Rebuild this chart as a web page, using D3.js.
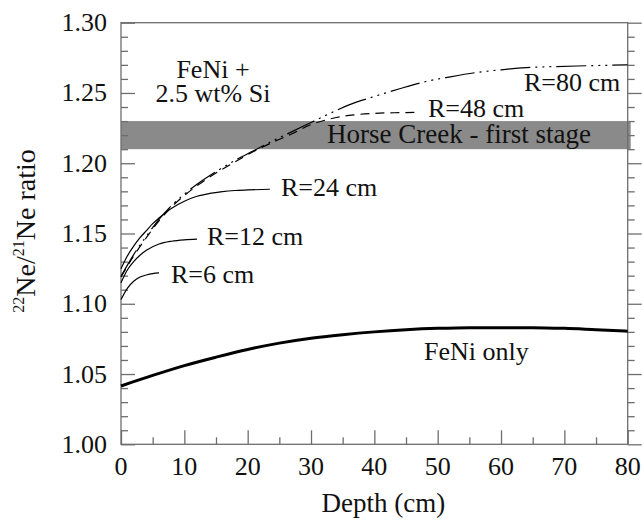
<!DOCTYPE html>
<html>
<head>
<meta charset="utf-8">
<script src="https://cdn.jsdelivr.net/npm/d3@7"></script>
</head>
<body style="margin:0">
<svg id="chart" width="644" height="521"></svg>
<script>
// data (depth in cm, 22Ne/21Ne ratio)
var feniDepth = [0, 5, 10, 15, 20, 25, 30, 35, 40, 45, 50, 55, 60, 65, 70, 75, 80];
var feniRatio = [1.0415, 1.049, 1.056, 1.062, 1.0675, 1.072, 1.0755, 1.078, 1.080, 1.0815, 1.0825, 1.083, 1.083, 1.083, 1.0825, 1.0815, 1.0805];

var r6Depth = [0, 1, 2, 3, 4, 5, 6];
var r6Ratio = [1.103, 1.111, 1.116, 1.119, 1.1205, 1.1215, 1.122];

var r12Depth = [0, 1, 2, 3, 4, 6, 8, 10, 12];
var r12Ratio = [1.115, 1.124, 1.130, 1.1345, 1.138, 1.1425, 1.1445, 1.1455, 1.146];

var r24Depth = [0, 1, 2, 3, 4, 5, 6, 8, 10, 12, 14, 16, 18, 20, 23.5];
var r24Ratio = [1.125, 1.134, 1.141, 1.147, 1.152, 1.157, 1.161, 1.168, 1.173, 1.1765, 1.1785, 1.1798, 1.1806, 1.181, 1.1815];

var r48Depth = [0, 2, 4, 6, 8, 10, 12, 15, 18, 21, 24, 27, 30, 33, 36, 40, 44, 47];
var r48Ratio = [1.119, 1.134, 1.147, 1.159, 1.169, 1.177, 1.184, 1.193, 1.201, 1.2085, 1.215, 1.221, 1.2275, 1.2315, 1.234, 1.2355, 1.236, 1.2362];

var r80Depth = [0, 2, 4, 6, 8, 10, 12, 15, 18, 21, 24, 27, 30, 33, 36, 40, 44, 48, 52, 56, 60, 64, 68, 72, 76, 80];
var r80Ratio = [1.1195, 1.135, 1.148, 1.160, 1.170, 1.178, 1.185, 1.194, 1.202, 1.209, 1.216, 1.2225, 1.229, 1.2355, 1.2415, 1.2475, 1.253, 1.258, 1.2615, 1.2645, 1.2665, 1.268, 1.2687, 1.2692, 1.2696, 1.270];

var bandRange = [1.21, 1.23];
var xTickLabels = ["0", "10", "20", "30", "40", "50", "60", "70", "80"];
var yTickLabels = ["1.00", "1.05", "1.10", "1.15", "1.20", "1.25", "1.30"];

var width = 644, height = 521;
var margin = { top: 22.7, right: 16.3, bottom: 76.7, left: 121 };
var axisCol = "#6e6e6e";

var svg = d3.select("#chart");

var x = d3.scaleLinear().domain([0, 80]).range([margin.left, width - margin.right]);
var y = d3.scaleLinear().domain([1.0, 1.3]).range([height - margin.bottom, margin.top]);

// grey band
svg.append("rect")
  .attr("x", x(0))
  .attr("width", x(80) - x(0) + 3)
  .attr("y", y(bandRange[1]))
  .attr("height", y(bandRange[0]) - y(bandRange[1]))
  .attr("fill", "#8a8a8a");

//// axes, ticks pointing inward on all four sides
function drawAxis(axisFn, scale, tr, vals, len) {
  var g = svg.append("g")
    .attr("transform", tr)
    .call(axisFn(scale).tickValues(vals).tickSize(-len).tickFormat(""));
  g.selectAll("path").remove();
  g.selectAll("line").attr("stroke", axisCol).attr("stroke-width", 1.3);
}
var xMajor = d3.range(0, 81, 10), xMinor = d3.range(5, 80, 10);
var yMajor = d3.range(0, 7).map(d => 1 + d * 0.05);
var yMinor = d3.range(0, 31).map(d => 1 + d * 0.01).filter((d, i) => i % 5 !== 0);

var bot = "translate(0," + y(1.0) + ")", top = "translate(0," + y(1.3) + ")";
var lft = "translate(" + x(0) + ",0)", rgt = "translate(" + x(80) + ",0)";
drawAxis(d3.axisBottom, x, bot, xMajor, 14);
drawAxis(d3.axisBottom, x, bot, xMinor, 7);
drawAxis(d3.axisTop, x, top, xMajor, -10);
drawAxis(d3.axisTop, x, top, xMinor, -10);
drawAxis(d3.axisLeft, y, lft, yMajor, 14);
drawAxis(d3.axisLeft, y, lft, yMinor, 7);
drawAxis(d3.axisRight, y, rgt, yMajor, -14);
drawAxis(d3.axisRight, y, rgt, yMinor, -7);

svg.append("rect")
  .attr("x", x(0)).attr("y", y(1.3))
  .attr("width", x(80) - x(0)).attr("height", y(1.0) - y(1.3))
  .attr("fill", "none").attr("stroke", axisCol).attr("stroke-width", 1.3);

// text helper
function label(txt, px, py, anchor, size) {
  return svg.append("text")
    .attr("x", px)
    .attr("y", py)
    .attr("text-anchor", anchor || "start")
    .attr("font-size", size || 26)
    .style("font-family", "Liberation Serif")
    .attr("fill", "#111")
    .text(txt);
}
xTickLabels.forEach(function(t) { label(t, x(+t), y(1.0) + 31, "middle"); });
yTickLabels.forEach(function(t) { label(t, x(0) - 14, y(+t) + 8.5, "end"); });

label("Depth (cm)", (x(0) + x(80)) / 2 + 9, 512, "middle", 27);

var yt = svg.append("text")
  .attr("transform", "translate(35,231) rotate(-90)")
  .attr("text-anchor", "middle")
  .attr("font-size", 28)
  .style("font-family", "Liberation Serif")
  .attr("fill", "#111");
yt.append("tspan").attr("font-size", 16).attr("dy", -11).text("22");
yt.append("tspan").attr("dy", 11).text("Ne/");
yt.append("tspan").attr("font-size", 16).attr("dy", -11).text("21");
yt.append("tspan").attr("dy", 11).text("Ne ratio");

//// curves
var line = d3.line()
  .x(d => x(d[0]))
  .y(d => y(d[1]))
  .curve(d3.curveMonotoneX);

function curve(depth, ratio, w, dash) {
  svg.append("path")
    .datum(d3.zip(depth, ratio))
    .attr("fill", "none")
    .attr("stroke", "#000")
    .attr("stroke-width", w)
    .attr("stroke-dasharray", dash || null)
    .attr("d", line);
}
curve(feniDepth, feniRatio, 3);
curve(r6Depth, r6Ratio, 1.2);
curve(r12Depth, r12Ratio, 1.2);
curve(r24Depth, r24Ratio, 1.2);
curve(r48Depth, r48Ratio, 1.2, "9,6");
curve(r80Depth, r80Ratio, 1.2, "30,5,2,5,2,5,2,5");

// annotations
label("FeNi +", 213, 78, "middle");
label("2.5 wt% Si", 213, 102, "middle");
label("Horse Creek - first stage", 327, 143, "start", 27);
label("R=80 cm", 524, 91);
label("R=48 cm", 428, 117);
label("R=24 cm", 281, 196);
label("R=12 cm", 207, 245);
label("R=6 cm", 171, 283);
label("FeNi only", 424, 360);
</script>
</body>
</html>
